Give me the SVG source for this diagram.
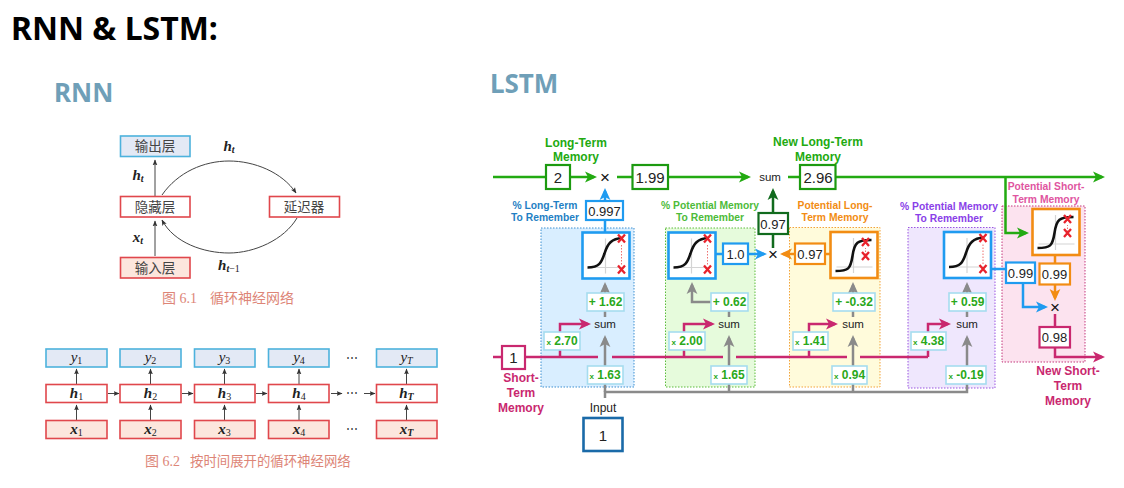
<svg xmlns="http://www.w3.org/2000/svg" width="1124" height="488" viewBox="0 0 1124 488">
<style>
text{font-family:"Liberation Sans",Arial,sans-serif;text-anchor:middle}
.title{font-family:"Noto Sans",sans-serif;font-weight:700;font-size:32px;text-anchor:start;fill:#000}
.sec{font-family:"Noto Sans",sans-serif;font-weight:700;font-size:26px;text-anchor:start;fill:#6f9fb8}
.cjk{font-family:"Liberation Serif","Noto Sans CJK SC",serif;font-size:13.500px;fill:#444}
.cap{font-family:"Liberation Serif","Noto Sans CJK SC",serif;font-size:14px;fill:#dd8577;text-anchor:start}
.math{font-family:"Liberation Serif",serif;font-style:italic;font-weight:700;font-size:15px;fill:#222}
.sub{font-size:10px;font-style:normal;font-weight:400}
.subi{font-size:10px}
.red{fill:#fff;stroke:#e0474c;stroke-width:1.600}
.redf{fill:#fce6dd;stroke:#e0474c;stroke-width:1.600}
.bluef{fill:#e3e9f5;stroke:#4db2dd;stroke-width:1.600}
.ln{fill:none;stroke:#444;stroke-width:1}
.lbl{font-weight:700;font-size:12px}
.lbs{font-weight:700;font-size:10.300px}
.val{font-size:13px;fill:#222}
.big{font-size:15px}
.gain{font-weight:700;font-size:12px;fill:#2aa81a}
.gx{font-size:8px}
.gbox{fill:#fff;stroke:#a6dcef;stroke-width:1.600}
.sumt{font-size:11.500px;fill:#222}
.op{font-size:17px;fill:#111}
.g{fill:none;stroke:#22aa11;stroke-width:2.500}
.dg{fill:none;stroke:#116b1e;stroke-width:2.500}
.b{fill:none;stroke:#1f9bf0;stroke-width:2.500}
.o{fill:none;stroke:#f28c13;stroke-width:2.500}
.m{fill:none;stroke:#c9286f;stroke-width:2.500}
.y{fill:none;stroke:#8a8a8a;stroke-width:2.500}
.panel{stroke-width:1;stroke-dasharray:1.500 1.500}
.vb{fill:#fff;stroke-width:2.200}
</style>
<defs>
<marker id="ak" markerUnits="userSpaceOnUse" markerWidth="6" markerHeight="6" viewBox="0 0 10 10" refX="9" refY="5" orient="auto"><path d="M0 1L10 5L0 9L2 5z" fill="#333"/></marker>
<marker id="ag" markerUnits="userSpaceOnUse" markerWidth="12" markerHeight="12" viewBox="0 0 10 10" refX="7.500" refY="5" orient="auto"><path d="M0 0.500L10 5L0 9.500L2.500 5z" fill="#22aa11"/></marker>
<marker id="adg" markerUnits="userSpaceOnUse" markerWidth="12" markerHeight="12" viewBox="0 0 10 10" refX="7.500" refY="5" orient="auto"><path d="M0 0.500L10 5L0 9.500L2.500 5z" fill="#116b1e"/></marker>
<marker id="ab" markerUnits="userSpaceOnUse" markerWidth="12" markerHeight="12" viewBox="0 0 10 10" refX="7.500" refY="5" orient="auto"><path d="M0 0.500L10 5L0 9.500L2.500 5z" fill="#1f9bf0"/></marker>
<marker id="ao" markerUnits="userSpaceOnUse" markerWidth="12" markerHeight="12" viewBox="0 0 10 10" refX="7.500" refY="5" orient="auto"><path d="M0 0.500L10 5L0 9.500L2.500 5z" fill="#f28c13"/></marker>
<marker id="am" markerUnits="userSpaceOnUse" markerWidth="12" markerHeight="12" viewBox="0 0 10 10" refX="7.500" refY="5" orient="auto"><path d="M0 0.500L10 5L0 9.500L2.500 5z" fill="#c9286f"/></marker>
<marker id="ay" markerUnits="userSpaceOnUse" markerWidth="12" markerHeight="12" viewBox="0 0 10 10" refX="7.500" refY="5" orient="auto"><path d="M0 0.500L10 5L0 9.500L2.500 5z" fill="#8a8a8a"/></marker>
<!-- activation curve plot, 47 x 46, with the red range marks -->
<g id="axes"><rect x="0" y="0" width="47" height="46" fill="#fff"/><path d="M23 6V41M6 35H42" stroke="#d4d4d4" stroke-width="1.200" fill="none"/></g>
<path id="xmark" d="M-3.500-4L3.500 4M3.500-4L-3.500 4" stroke="#e8222c" stroke-width="2.300" fill="none"/>
<g id="soft"><use href="#axes"/><path d="M5 35C17 35 19 30 22 21C25 11 29 6 40 5.500" fill="none" stroke="#111" stroke-width="2.600"/><path d="M39 32V11" stroke="#ee7070" stroke-width="1" stroke-dasharray="1.500 1.500"/><use href="#xmark" x="39" y="6"/><use href="#xmark" x="39" y="37"/></g>
<g id="steep"><use href="#axes"/><path d="M5 39C18 39 20 37 22 24C24 10 27 8 41 8" fill="none" stroke="#111" stroke-width="2.600"/><path d="M35 26V16" stroke="#ee7070" stroke-width="1" stroke-dasharray="1.500 1.500"/><use href="#xmark" x="35" y="10"/><use href="#xmark" x="35" y="24"/></g>
</defs>

<text class="title" x="11" y="40">RNN &amp; LSTM:</text>
<text class="sec" x="54" y="102">RNN</text>
<text class="sec" x="490" y="93">LSTM</text>

<!-- single-cell recurrent loop -->
<g id="rnn-connectors">
<path class="ln" marker-end="url(#ak)" d="M155 196V160"/>
<path class="ln" marker-end="url(#ak)" d="M155 256V221"/>
<path class="ln" marker-end="url(#ak)" d="M162 195C178 172 204 161 229 161C254 161 282 172 296 193"/>
<path class="ln" marker-end="url(#ak)" d="M297 218C284 240 254 253 229 253C204 253 174 243 162 220"/>
</g>
<g id="rnn-output"><rect class="bluef" x="120.500" y="136" width="69.500" height="20.500"/><text class="cjk" x="155" y="150.500">输出层</text></g>
<g id="rnn-hidden"><rect class="red" x="120.500" y="196.500" width="69.500" height="20.500"/><text class="cjk" x="155" y="211.500">隐藏层</text></g>
<g id="rnn-delay"><rect class="red" x="269.500" y="196.500" width="70" height="20.500"/><text class="cjk" x="304" y="211.500">延迟器</text></g>
<g id="rnn-input"><rect class="redf" x="120.500" y="257.500" width="69.500" height="20.500"/><text class="cjk" x="155" y="272.500">输入层</text></g>
<text class="math" x="229" y="151">h<tspan class="subi" dy="2">t</tspan></text>
<text class="math" x="138" y="180">h<tspan class="subi" dy="2">t</tspan></text>
<text class="math" x="138" y="242">x<tspan class="subi" dy="2">t</tspan></text>
<text class="math" x="229" y="270">h<tspan class="subi" dy="2">t</tspan><tspan class="sub">−1</tspan></text>
<text class="cap" x="162" y="303">图 6.1</text><text class="cap" x="210" y="303">循环神经网络</text>

<!-- unrolled sequence -->
<g id="seq-connectors">
<path class="ln" marker-end="url(#ak)" d="M76.500 384V369"/><path class="ln" marker-end="url(#ak)" d="M76.500 420V405"/>
<path class="ln" marker-end="url(#ak)" d="M150.500 384V369"/><path class="ln" marker-end="url(#ak)" d="M150.500 420V405"/>
<path class="ln" marker-end="url(#ak)" d="M224.500 384V369"/><path class="ln" marker-end="url(#ak)" d="M224.500 420V405"/>
<path class="ln" marker-end="url(#ak)" d="M299 384V369"/><path class="ln" marker-end="url(#ak)" d="M299 420V405"/>
<path class="ln" marker-end="url(#ak)" d="M406.500 384V369"/><path class="ln" marker-end="url(#ak)" d="M406.500 420V405"/>
<path class="ln" marker-end="url(#ak)" d="M108 393.500H119"/>
<path class="ln" marker-end="url(#ak)" d="M182 393.500H193"/>
<path class="ln" marker-end="url(#ak)" d="M256 393.500H267"/>
<path class="ln" marker-end="url(#ak)" d="M331 393.500H342"/>
<path class="ln" marker-end="url(#ak)" d="M364 393.500H375"/>
</g>
<g id="seq-y"><rect class="bluef" x="46" y="349" width="61" height="18"/><rect class="bluef" x="120" y="349" width="61" height="18"/><rect class="bluef" x="194.500" y="349" width="60.500" height="18"/><rect class="bluef" x="268.500" y="349" width="60.500" height="18"/><rect class="bluef" x="376.500" y="349" width="60.500" height="18"/>
<text class="math" style="font-weight:400" x="76.500" y="362">y<tspan class="sub" dy="2">1</tspan></text><text class="math" style="font-weight:400" x="150.500" y="362">y<tspan class="sub" dy="2">2</tspan></text><text class="math" style="font-weight:400" x="224.500" y="362">y<tspan class="sub" dy="2">3</tspan></text><text class="math" style="font-weight:400" x="299" y="362">y<tspan class="sub" dy="2">4</tspan></text><text class="math" style="font-weight:400" x="406.500" y="362">y<tspan class="subi" dy="2">T</tspan></text></g>
<g id="seq-h"><rect class="red" x="46" y="384.500" width="61" height="18"/><rect class="red" x="120" y="384.500" width="61" height="18"/><rect class="red" x="194.500" y="384.500" width="60.500" height="18"/><rect class="red" x="268.500" y="384.500" width="60.500" height="18"/><rect class="red" x="376.500" y="384.500" width="60.500" height="18"/>
<text class="math" x="76.500" y="398">h<tspan class="sub" dy="2">1</tspan></text><text class="math" x="150.500" y="398">h<tspan class="sub" dy="2">2</tspan></text><text class="math" x="224.500" y="398">h<tspan class="sub" dy="2">3</tspan></text><text class="math" x="299" y="398">h<tspan class="sub" dy="2">4</tspan></text><text class="math" x="406.500" y="398">h<tspan class="subi" dy="2">T</tspan></text></g>
<g id="seq-x"><rect class="redf" x="46" y="420.500" width="61" height="18"/><rect class="redf" x="120" y="420.500" width="61" height="18"/><rect class="redf" x="194.500" y="420.500" width="60.500" height="18"/><rect class="redf" x="268.500" y="420.500" width="60.500" height="18"/><rect class="redf" x="376.500" y="420.500" width="60.500" height="18"/>
<text class="math" x="76.500" y="434">x<tspan class="sub" dy="2">1</tspan></text><text class="math" x="150.500" y="434">x<tspan class="sub" dy="2">2</tspan></text><text class="math" x="224.500" y="434">x<tspan class="sub" dy="2">3</tspan></text><text class="math" x="299" y="434">x<tspan class="sub" dy="2">4</tspan></text><text class="math" x="406.500" y="434">x<tspan class="subi" dy="2">T</tspan></text></g>
<g id="seq-dots" font-size="12" fill="#333"><text x="352" y="362">⋯</text><text x="352" y="397">⋯</text><text x="352" y="433">⋯</text></g>
<text class="cap" x="145" y="466">图 6.2</text><text class="cap" style="font-size:13.400px" x="190" y="466">按时间展开的循环神经网络</text>

<!-- LSTM stage backgrounds -->
<g id="stage-panels">
<rect class="panel" x="541" y="228" width="93" height="159" fill="#d9eeff" stroke="#3d8fd0"/>
<rect class="panel" x="665.500" y="228" width="89.500" height="159" fill="#e6fbdc" stroke="#5cbb3c"/>
<rect class="panel" x="789.500" y="227.500" width="90.500" height="159.500" fill="#fffbdb" stroke="#f2a33a"/>
<rect class="panel" x="908" y="227.500" width="87" height="160.500" fill="#efe7fd" stroke="#9a55e0"/>
<rect class="panel" x="1002" y="206" width="83" height="156" fill="#fce3ef" stroke="#c4397c"/>
</g>

<g id="connectors">
<path class="g" d="M493 177H546M570 177H594" marker-end="url(#ag)"/>
<path class="g" d="M617 177H632M668 177H748" marker-end="url(#ag)"/>
<path class="g" d="M788 177H800M836 177H1102" marker-end="url(#ag)"/>
<path class="g" d="M1005.500 177V233H1026" marker-end="url(#ag)"/>
<path class="b" d="M605 232V220M605 201V191" marker-end="url(#ab)"/>
<path class="b" d="M715 254H723M748 254H764" marker-end="url(#ab)"/>
<path class="dg" d="M773 248V234M773 213V191" marker-end="url(#adg)"/>
<path class="o" d="M830 254H825M795 254H783" marker-end="url(#ao)"/>
<path class="b" d="M991 269H1006"/>
<path class="b" d="M1023 283V307H1045" marker-end="url(#ab)"/>
<path class="o" d="M1055 255V263M1055 285V298" marker-end="url(#ao)"/>
<path class="m" d="M1055 314V327M1055 347V357H1102" marker-end="url(#am)"/>
<path class="m" d="M493 357H502M525 357H598M612 357H723M736 357H847M860 357H928"/>
<path class="m" d="M560 357V350M560 332V324H588" marker-end="url(#am)"/>
<path class="m" d="M684 357V350M684 332V324H712" marker-end="url(#am)"/>
<path class="m" d="M809 357V350M809 332V324H835" marker-end="url(#am)"/>
<path class="m" d="M928 357V350M928 332V324H948" marker-end="url(#am)"/>
<path class="y" d="M605 398V392H967V384"/>
<path class="y" d="M605 392V338" marker-end="url(#ay)"/>
<path class="y" d="M729 392V384M729 366V338" marker-end="url(#ay)"/>
<path class="y" d="M853 392V384M853 366V338" marker-end="url(#ay)"/>
<path class="y" d="M967 366V338" marker-end="url(#ay)"/>
<path class="y" d="M605 317V311M605 293V285" marker-end="url(#ay)"/>
<path class="y" d="M729 317V311M711 302H692V285" marker-end="url(#ay)"/>
<path class="y" d="M853 317V311M853 293V285" marker-end="url(#ay)"/>
<path class="y" d="M967 317V311M967 293V285" marker-end="url(#ay)"/>
</g>

<!-- memory labels -->
<g id="labels">
<g class="lbl" fill="#22aa11"><text x="576" y="147">Long-Term</text><text x="576" y="161">Memory</text><text x="818" y="146">New Long-Term</text><text x="818" y="161">Memory</text></g>
<g class="lbl" fill="#c9286f"><text x="521" y="382">Short-</text><text x="521" y="397">Term</text><text x="521" y="412">Memory</text><text x="1068" y="375">New Short-</text><text x="1068" y="390">Term</text><text x="1068" y="405">Memory</text></g>
<g class="lbs" fill="#1f7fc4"><text x="545" y="209">% Long-Term</text><text x="545" y="221">To Remember</text></g>
<g class="lbs" fill="#4dbb3a"><text x="710" y="209">% Potential Memory</text><text x="710" y="221">To Remember</text></g>
<g class="lbs" fill="#f28c13"><text x="835" y="209">Potential Long-</text><text x="835" y="221">Term Memory</text></g>
<g class="lbs" fill="#8a3fe8"><text x="949" y="210">% Potential Memory</text><text x="949" y="222">To Remember</text></g>
<g class="lbs" fill="#e0559f"><text x="1046" y="190">Potential Short-</text><text x="1046" y="203">Term Memory</text></g>
</g>

<!-- value nodes on the memory lines -->
<g id="lt-start"><rect class="vb" x="546" y="165" width="24" height="24" stroke="#1c9a10"/><text class="val big" x="558" y="182.500">2</text></g>
<g id="lt-kept"><rect class="vb" x="632.500" y="165" width="35.500" height="24" stroke="#1c9a10"/><text class="val big" x="650" y="182.500">1.99</text></g>
<g id="lt-new"><rect class="vb" x="800" y="165" width="35.500" height="24" stroke="#1c9a10"/><text class="val big" x="818" y="182.500">2.96</text></g>
<g id="st-start"><rect class="vb" x="502" y="346" width="23" height="23" stroke="#c9286f"/><text class="val big" x="513.500" y="363">1</text></g>
<g id="input"><text class="sumt" style="font-size:12px" x="603" y="412">Input</text><rect class="vb" x="583.500" y="418" width="39" height="33" stroke="#1a6aa8" style="stroke-width:2.600"/><text class="val big" x="603" y="441">1</text></g>

<!-- gate values -->
<g id="v0997"><rect class="vb" x="586" y="201" width="37" height="19" stroke="#1f9bf0"/><text class="val" x="604.500" y="215.500">0.997</text></g>
<g id="v10"><rect class="vb" x="723" y="243.500" width="25" height="20.500" stroke="#1f9bf0"/><text class="val" x="735.500" y="258.500">1.0</text></g>
<g id="v097dg"><rect class="vb" x="758.500" y="213" width="29.500" height="21" stroke="#116b1e"/><text class="val" x="773" y="228.500">0.97</text></g>
<g id="v097o"><rect class="vb" x="795" y="243.500" width="30" height="20.500" stroke="#f28c13"/><text class="val" x="810" y="258.500">0.97</text></g>
<g id="v099b"><rect class="vb" x="1006" y="262.500" width="29" height="20.500" stroke="#1f9bf0"/><text class="val" x="1020.500" y="277.500">0.99</text></g>
<g id="v099o"><rect class="vb" x="1039.500" y="263.500" width="30.500" height="21" stroke="#f28c13"/><text class="val" x="1054.500" y="279">0.99</text></g>
<g id="v098"><rect class="vb" x="1039.500" y="327" width="30.500" height="20.500" stroke="#c9286f"/><text class="val" x="1054.500" y="342">0.98</text></g>

<!-- activation plots -->
<g id="plot-forget"><use href="#soft" x="582.500" y="232.500"/><rect x="582.500" y="232.500" width="47" height="46" fill="none" stroke="#1f9bf0" stroke-width="2.600"/></g>
<g id="plot-input"><use href="#soft" x="668.500" y="232.500"/><rect x="668.500" y="232.500" width="47" height="46" fill="none" stroke="#1f9bf0" stroke-width="2.600"/></g>
<g id="plot-candidate"><use href="#steep" x="830.500" y="232"/><rect x="830.500" y="232" width="47" height="46" fill="none" stroke="#f28c13" stroke-width="2.600"/></g>
<g id="plot-input2"><use href="#soft" x="944" y="232"/><rect x="944" y="232" width="47" height="46" fill="none" stroke="#1f9bf0" stroke-width="2.600"/></g>
<g id="plot-output"><use href="#steep" x="1032.500" y="209"/><rect x="1032.500" y="209" width="47" height="46" fill="none" stroke="#f28c13" stroke-width="2.600"/></g>

<!-- weight and bias tags -->
<g id="tags">
<rect class="gbox" x="587" y="293" width="37" height="18"/><text class="gain" x="605.500" y="306">+ 1.62</text>
<rect class="gbox" x="711" y="293" width="37" height="18"/><text class="gain" x="729.500" y="306">+ 0.62</text>
<rect class="gbox" x="833" y="293" width="42" height="18"/><text class="gain" x="854" y="306">+ -0.32</text>
<rect class="gbox" x="949" y="293" width="37" height="18"/><text class="gain" x="967.500" y="306">+ 0.59</text>
<rect class="gbox" x="544" y="332" width="36" height="18"/><text class="gain" x="562" y="345"><tspan class="gx">x</tspan> 2.70</text>
<rect class="gbox" x="669" y="332" width="36" height="18"/><text class="gain" x="687" y="345"><tspan class="gx">x</tspan> 2.00</text>
<rect class="gbox" x="793" y="332" width="35" height="18"/><text class="gain" x="810.500" y="345"><tspan class="gx">x</tspan> 1.41</text>
<rect class="gbox" x="911" y="332" width="35" height="18"/><text class="gain" x="928.500" y="345"><tspan class="gx">x</tspan> 4.38</text>
<rect class="gbox" x="587.500" y="366" width="35.500" height="18"/><text class="gain" x="605" y="379"><tspan class="gx">x</tspan> 1.63</text>
<rect class="gbox" x="711" y="366" width="36" height="18"/><text class="gain" x="729" y="379"><tspan class="gx">x</tspan> 1.65</text>
<rect class="gbox" x="832" y="366" width="35" height="18"/><text class="gain" x="849.500" y="379"><tspan class="gx">x</tspan> 0.94</text>
<rect class="gbox" x="946" y="366" width="40" height="18"/><text class="gain" x="966" y="379"><tspan class="gx">x</tspan> -0.19</text>
</g>

<!-- operators -->
<g id="ops">
<text class="sumt" x="605" y="328">sum</text><text class="sumt" x="729" y="328">sum</text><text class="sumt" x="853" y="328">sum</text><text class="sumt" x="967" y="328">sum</text><text class="sumt" x="770" y="181">sum</text>
<text class="op" x="605" y="183">×</text><text class="op" x="773" y="260">×</text><text class="op" x="1055" y="313">×</text>
</g>
</svg>
